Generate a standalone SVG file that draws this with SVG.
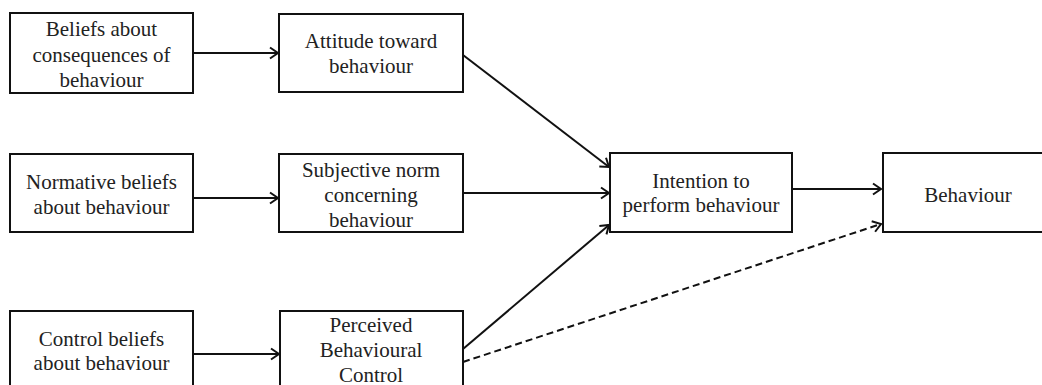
<svg xmlns="http://www.w3.org/2000/svg" width="1042" height="385" viewBox="0 0 1042 385">
<style>
.box{fill:#fff;stroke:#111;stroke-width:2}
.c{stroke:#111;stroke-width:2;fill:none}
.d{stroke-dasharray:7 4}
text{font-family:'Liberation Serif',serif !important}
</style>
<defs>
<marker id="ah" markerUnits="userSpaceOnUse" markerWidth="14" markerHeight="14" refX="11" refY="7" orient="auto">
<path d="M3,1.5 L11,7 L3,12.5" fill="none" stroke="#111" stroke-width="2"/>
</marker>
</defs>
<rect width="1042" height="385" fill="#fff"/>
<g id="connectors">
<line class="c" x1="193" y1="53" x2="278" y2="53" marker-end="url(#ah)"/>
<line class="c" x1="193" y1="198" x2="278" y2="198" marker-end="url(#ah)"/>
<line class="c" x1="193" y1="354" x2="279" y2="354" marker-end="url(#ah)"/>
<line class="c" x1="463" y1="55" x2="609" y2="167" marker-end="url(#ah)"/>
<line class="c" x1="463" y1="193" x2="609" y2="193" marker-end="url(#ah)"/>
<line class="c" x1="463" y1="349" x2="609" y2="225" marker-end="url(#ah)"/>
<line class="c" x1="792" y1="189" x2="881" y2="189" marker-end="url(#ah)"/>
<line class="c d" x1="463" y1="362" x2="881" y2="224" marker-end="url(#ah)"/>
</g>
<g font-family="Liberation Serif" font-size="21" fill="#222" text-anchor="middle">
<g id="n1"><rect class="box" x="10" y="13" width="183" height="80"/>
<text x="101.5" y="36" style="font-family:'Liberation Serif'">Beliefs  about</text>
<text x="101.5" y="61.5" style="font-family:'Liberation Serif'">consequences of</text>
<text x="101.5" y="87" style="font-family:'Liberation Serif'">behaviour</text></g>
<g id="n2"><rect class="box" x="279" y="14" width="184" height="78"/>
<text x="371" y="48" style="font-family:'Liberation Serif'">Attitude  toward</text>
<text x="371" y="73" style="font-family:'Liberation Serif'">behaviour</text></g>
<g id="n3"><rect class="box" x="10" y="154" width="183" height="78"/>
<text x="101.5" y="189" style="font-family:'Liberation Serif'">Normative  beliefs</text>
<text x="101.5" y="214" style="font-family:'Liberation Serif'">about behaviour</text></g>
<g id="n4"><rect class="box" x="279" y="154" width="184" height="78"/>
<text x="371" y="177" style="font-family:'Liberation Serif'">Subjective norm</text>
<text x="371" y="202" style="font-family:'Liberation Serif'">concerning</text>
<text x="371" y="227" style="font-family:'Liberation Serif'">behaviour</text></g>
<g id="n5"><rect class="box" x="610" y="153" width="182" height="79"/>
<text x="701" y="188" style="font-family:'Liberation Serif'">Intention to</text>
<text x="701" y="212" style="font-family:'Liberation Serif'">perform behaviour</text></g>
<g id="n6"><rect class="box" x="883" y="153" width="175" height="79"/>
<text x="968" y="202" style="font-family:'Liberation Serif'">Behaviour</text></g>
<g id="n7"><rect class="box" x="10" y="311" width="183" height="80"/>
<text x="101.5" y="346" style="font-family:'Liberation Serif'">Control beliefs</text>
<text x="101.5" y="370" style="font-family:'Liberation Serif'">about behaviour</text></g>
<g id="n8"><rect class="box" x="280" y="311" width="183" height="80"/>
<text x="371" y="332" style="font-family:'Liberation Serif'">Perceived</text>
<text x="371" y="357" style="font-family:'Liberation Serif'">Behavioural</text>
<text x="371" y="382" style="font-family:'Liberation Serif'">Control</text></g>
</g>
</svg>
